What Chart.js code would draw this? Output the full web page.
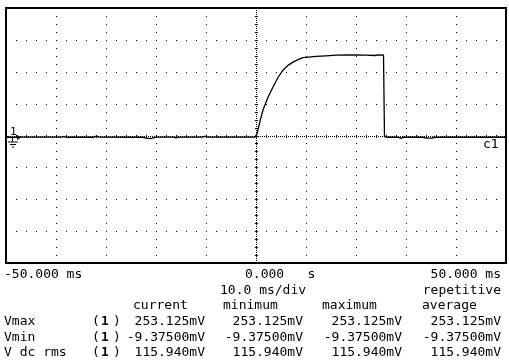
<!DOCTYPE html>
<html>
<head>
<meta charset="utf-8">
<script src="https://cdn.jsdelivr.net/npm/chart.js@4.4.1/dist/chart.umd.min.js"></script>
<style>
  html, body { margin: 0; padding: 0; background: #fff; overflow: hidden; }
  #scope { display: block; }
</style>
</head>
<body>
<canvas id="scope" width="509" height="363"></canvas>
<script>
// Trace: time (ms) and voltage (mV)
const timeMs = [-50, -49.4, -38.8, -38.4, -38, -32.4, -32, -31.4, -22.6, -22, -21, -20.4, -19.8,
  -16.4, -16, -15.4, -10.6, -10.2, -9.6, -3, -0.2,
  0.2, 0.8, 1.4, 2.4, 3.4, 4.4, 5.4, 6.4, 7.4, 8.4, 9.4, 10.5, 12, 14, 16, 19, 22, 23.8, 24.4, 25.5,
  25.7, 26.2, 28.4, 29, 29.6, 33.4, 34, 35.2, 35.8, 50];
const voltsMv = [-2, -5, -5, -3, -5.5, -5.5, -2, -5, -5.5, -8, -9.4, -6.5, -5,
  -5, -7, -5, -5, -2, -5, -5, -5,
  5, 45, 80, 120, 152, 182, 205, 220, 230, 238, 244, 246, 248, 250, 252, 253, 252, 251, 253, 252,
  -3, -5.5, -5.5, -8.5, -5.5, -5.5, -8, -8, -5.5, -5.5];

// Screen scales: 10 divisions of 10 ms, 8 divisions of 100 mV
const xRange = [-50, 50];
const yRange = [-400, 400];

// Time base labels
const timeLabels = ['-50.000 ms', '0.000   s', '50.000 ms'];
const timeBase = '10.0 ms/div';
const acqMode = 'repetitive';

// Measurement table
const measureCols = ['current', 'minimum', 'maximum', 'average'];
const measureRows = ['Vmax', 'Vmin', 'V dc rms'];
const vmaxValues = ['253.125mV', '253.125mV', '253.125mV', '253.125mV'];
const vminValues = ['-9.37500mV', '-9.37500mV', '-9.37500mV', '-9.37500mV'];
const vrmsValues = ['115.940mV', '115.940mV', '115.940mV', '115.940mV'];

const MONO = '"DejaVu Sans Mono", "Liberation Mono", monospace';

// Grid, frame, markers and text
const scopePlugin = {
  id: 'scopeScreen',
  beforeDatasetsDraw(chart) {
    const ctx = chart.ctx;
    const xs = chart.scales.x;
    const ys = chart.scales.y;
    const a = chart.chartArea;
    ctx.save();
    ctx.fillStyle = '#000';

    // dotted grid rows
    for (let v = -300; v <= 300; v += 100) {
      if (v === 0) continue;
      const py = Math.round(ys.getPixelForValue(v));
      for (let t = -48; t <= 48; t += 2) {
        ctx.fillRect(Math.round(xs.getPixelForValue(t)), py, 1, 1);
      }
    }
    // dotted grid columns
    for (let t = -40; t <= 40; t += 10) {
      if (t === 0) continue;
      const px = Math.round(xs.getPixelForValue(t));
      for (let v = -375; v <= 375; v += 25) {
        ctx.fillRect(px, Math.round(ys.getPixelForValue(v)), 1, 1);
      }
    }
    // centre axes, dense dots with small ticks
    const cx = Math.round(xs.getPixelForValue(0));
    const cy = Math.round(ys.getPixelForValue(0));
    for (let px = Math.round(a.left) + 2; px < a.right - 1; px += 2) {
      ctx.fillRect(px, cy, 1, 1);
    }
    for (let t = -48; t <= 48; t += 2) {
      ctx.fillRect(Math.round(xs.getPixelForValue(t)), cy - 1, 1, 3);
    }
    for (let py = Math.round(a.top) + 2; py < a.bottom - 1; py += 2) {
      ctx.fillRect(cx, py, 1, 1);
    }
    for (let v = -375; v <= 375; v += 25) {
      ctx.fillRect(cx - 1, Math.round(ys.getPixelForValue(v)), 3, 1);
    }
    ctx.restore();
  },
  afterDraw(chart) {
    const ctx = chart.ctx;
    const ys = chart.scales.y;
    const a = chart.chartArea;
    ctx.save();

    // frame
    ctx.strokeStyle = '#000';
    ctx.lineWidth = 2;
    ctx.strokeRect(a.left, a.top, a.right - a.left, a.bottom - a.top);

    // channel 1 ground marker
    const gy = Math.round(ys.getPixelForValue(0)) + 1.5;
    ctx.lineWidth = 1;
    ctx.beginPath();
    ctx.moveTo(7, gy); ctx.lineTo(20, gy);
    ctx.moveTo(12.5, gy); ctx.lineTo(12.5, gy + 4);
    ctx.moveTo(8, gy + 4.5); ctx.lineTo(18, gy + 4.5);
    ctx.moveTo(10, gy + 7); ctx.lineTo(16, gy + 7);
    ctx.moveTo(12, gy + 9.5); ctx.lineTo(14, gy + 9.5);
    ctx.stroke();
    ctx.beginPath();
    ctx.moveTo(21, gy); ctx.lineTo(17, gy - 2.5); ctx.lineTo(17, gy + 2.5); ctx.closePath();
    ctx.fillStyle = '#000';
    ctx.fill();
    ctx.font = '11px ' + MONO;
    ctx.textBaseline = 'alphabetic';
    ctx.textAlign = 'left';
    ctx.fillText('1', 10, gy - 3);

    ctx.font = '13px ' + MONO;
    ctx.fillText('c1', 483, 148);

    // time base line
    const rowY = [278, 293.5, 309, 325, 340.5, 356];
    ctx.textAlign = 'left';
    ctx.fillText(timeLabels[0], 4, rowY[0]);
    ctx.fillText(timeLabels[1], 245, rowY[0]);
    ctx.textAlign = 'right';
    ctx.fillText(timeLabels[2], 501, rowY[0]);

    ctx.textAlign = 'left';
    ctx.fillText(timeBase, 220, rowY[1]);
    ctx.textAlign = 'right';
    ctx.fillText(acqMode, 501, rowY[1]);

    // measurement table
    const colLeft = [133, 223, 322, 422];
    const colRight = [205, 303, 402, 501];
    ctx.textAlign = 'left';
    measureCols.forEach((c, i) => ctx.fillText(c, colLeft[i], rowY[2]));

    const rowValues = [vmaxValues, vminValues, vrmsValues];
    measureRows.forEach((name, r) => {
      const y = rowY[3 + r];
      ctx.font = '13px ' + MONO;
      ctx.textAlign = 'left';
      ctx.fillText(name, 4, y);
      ctx.fillText('(', 92, y);
      ctx.fillText(')', 113, y);
      ctx.font = 'bold 13px ' + MONO;
      ctx.fillText('1', 101, y);
      ctx.font = '13px ' + MONO;
      ctx.textAlign = 'right';
      rowValues[r].forEach((val, i) => ctx.fillText(val, colRight[i], y));
    });
    ctx.restore();
  }
};

new Chart(document.getElementById('scope'), {
  type: 'line',
  data: {
    datasets: [{
      data: timeMs.map((t, i) => ({ x: t, y: voltsMv[i] })),
      borderColor: '#000',
      borderWidth: 1.3,
      pointRadius: 0,
      tension: 0,
      fill: false
    }]
  },
  options: {
    responsive: false,
    animation: false,
    layout: { padding: { left: 6, right: 3, top: 8, bottom: 100 } },
    plugins: { legend: { display: false }, tooltip: { enabled: false } },
    scales: {
      x: { type: 'linear', min: xRange[0], max: xRange[1], display: false },
      y: { type: 'linear', min: yRange[0], max: yRange[1], display: false }
    }
  },
  plugins: [scopePlugin]
});
</script>
</body>
</html>
